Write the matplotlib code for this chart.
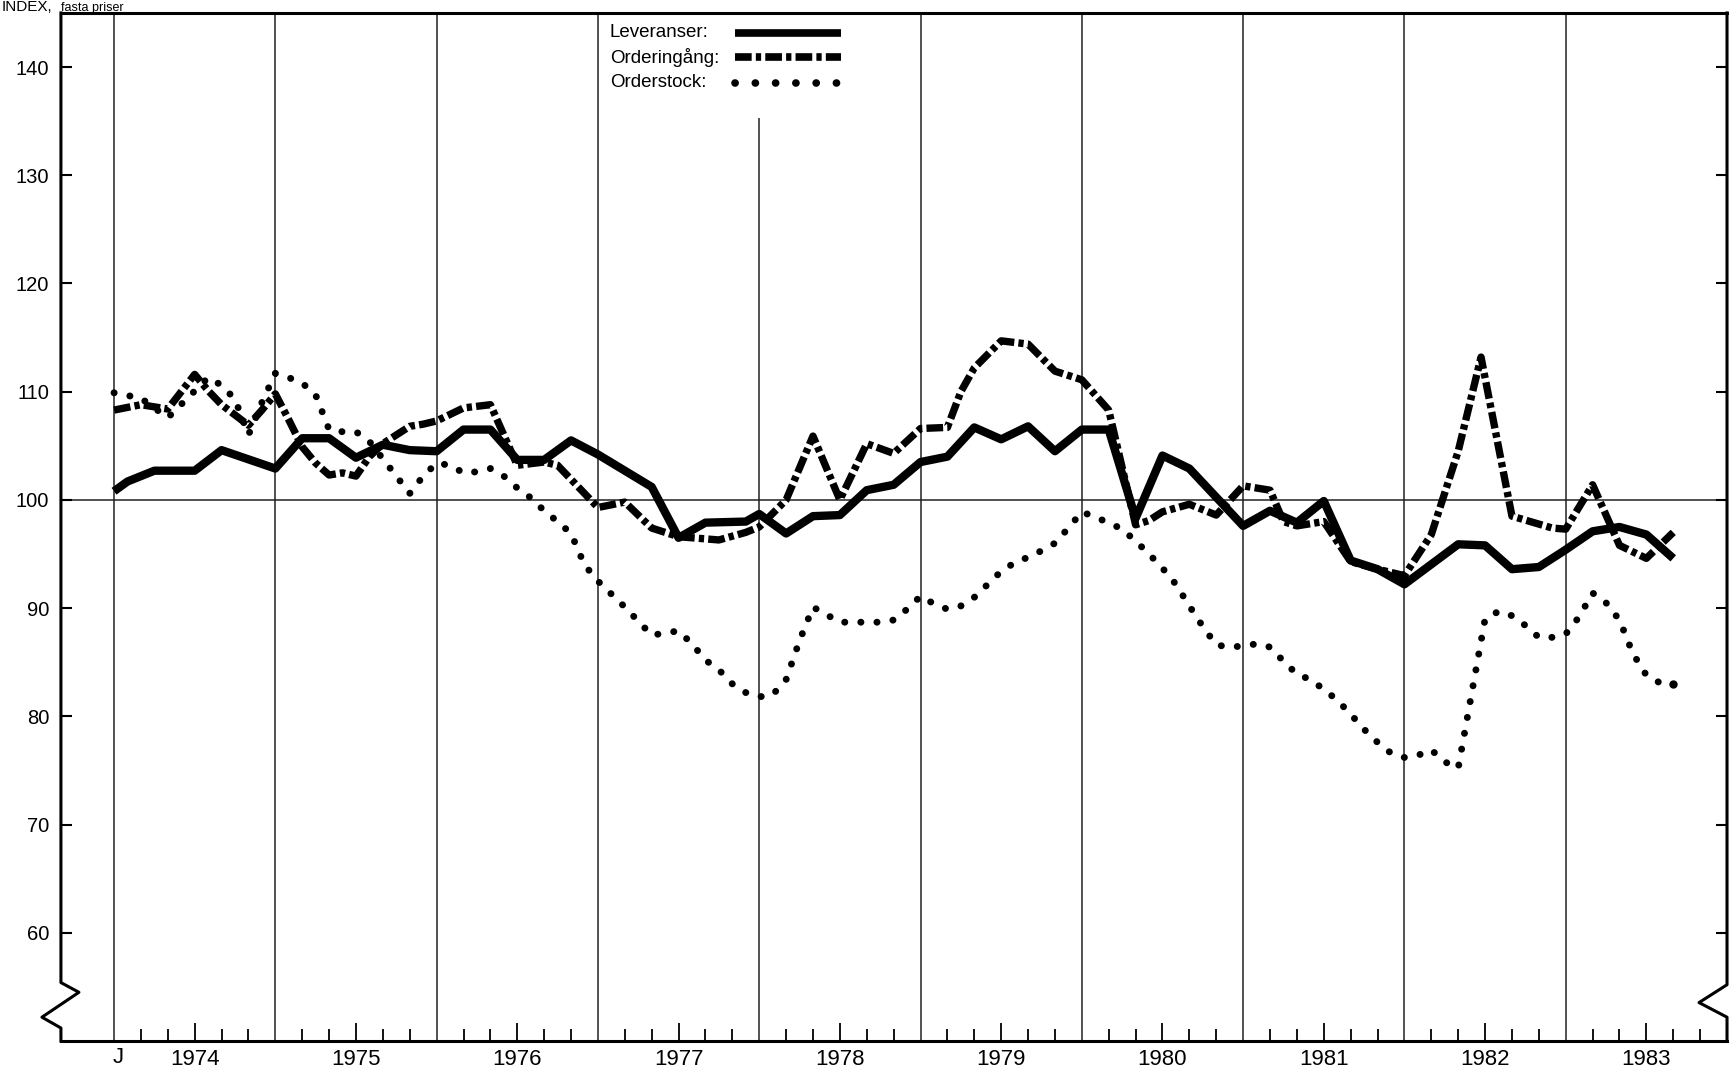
import matplotlib.pyplot as plt
from matplotlib.patches import Rectangle

# months counted from January 1974
years = ["1974", "1975", "1976", "1977", "1978", "1979", "1980", "1981", "1982", "1983"]

lev_months = [0, 1, 3, 6, 8, 12, 14, 16, 18, 20, 22, 24, 26, 28, 30, 32, 34, 36, 40, 42,
              44, 47, 48, 50, 52, 54, 56, 58, 60, 62, 64, 66, 68, 70, 72, 74, 76, 78, 80, 84,
              86, 88, 90, 92, 94, 96, 100, 102, 104, 106, 108, 110, 112, 114, 116]
lev_values = [100.8, 101.7, 102.7, 102.7, 104.6, 102.9, 105.7, 105.7, 103.9, 105.1, 104.6, 104.5,
              106.5, 106.5, 103.7, 103.7, 105.5, 104.2, 101.2, 96.5, 97.9, 98.0, 98.7, 96.9,
              98.5, 98.6, 100.9, 101.4, 103.5, 104.0, 106.7, 105.6, 106.8, 104.5, 106.5, 106.5,
              98.3, 104.1, 102.9, 97.6, 99.0, 97.9, 99.9, 94.4, 93.6, 92.2, 95.9, 95.8, 93.6,
              93.8, 95.4, 97.1, 97.5, 96.8, 94.6]

ord_months = [0, 2, 4, 6, 7, 8, 10, 11, 12, 13, 14, 15, 16, 17, 18, 19, 20, 22, 23, 24,
              26, 28, 30, 32, 33, 36, 38, 40, 42, 45, 47, 48, 50, 52, 54, 56, 58, 60, 62, 63,
              64, 66, 68, 70, 72, 74, 76, 77, 78, 80, 82, 84, 86, 87, 88, 90, 92, 94, 96, 98,
              100, 101.7, 104, 107, 108, 110, 112, 114, 116]
ord_values = [108.3, 108.8, 108.4, 111.6, 110.1, 108.8, 106.9, 108.3, 109.8, 107.4, 104.9, 103.4,
              102.3, 102.5, 102.2, 104.0, 105.2, 106.8, 107.0, 107.3, 108.5, 108.8, 103.2, 103.5,
              103.2, 99.3, 99.8, 97.4, 96.6, 96.3, 97.0, 97.5, 100.0, 105.9, 100.0, 105.2, 104.3,
              106.6, 106.7, 110.0, 112.2, 114.7, 114.4, 111.9, 111.1, 108.3, 97.7, 98.1, 98.9,
              99.6, 98.6, 101.3, 100.9, 98.0, 97.6, 98.0, 94.3, 93.6, 93.0, 96.8, 104.5, 113.2,
              98.5, 97.4, 97.3, 101.4, 95.8, 94.6, 97.0]

stock_months = [0, 2, 4, 7, 8, 9, 10, 11,
                12, 13, 14, 15, 16, 17, 18, 19, 20, 21, 22, 23,
                24, 25, 26, 27, 28, 29, 30, 31, 32, 33, 34, 35,
                36, 37, 38, 39, 40, 41, 42, 43, 44, 45, 46, 47,
                48, 49, 50, 51, 52, 53, 54, 55, 56, 57, 58, 59,
                60, 61, 62, 63, 64, 65, 66, 67, 68, 69, 70, 71,
                72, 73, 74, 75, 76, 77, 78, 79, 80, 81, 82, 83,
                84, 85, 86, 87, 88, 89, 90, 91, 92, 93, 94, 95,
                96, 97, 98, 99, 100, 102, 103, 104, 105, 106, 107,
                108, 109, 110, 111, 112, 113, 114, 115, 116]
stock_values = [109.9, 109.4, 107.6, 111.3, 110.6, 109.3, 106.0, 109.0,
                111.7, 111.3, 110.8, 109.7, 106.5, 106.3, 106.3, 105.4, 103.8, 102.2, 100.6, 102.2,
                103.4, 103.2, 102.5, 102.6, 102.9, 102.2, 101.1, 100.2, 99.0, 98.0, 96.9, 94.0,
                92.5, 91.3, 90.1, 88.8, 87.5, 87.7, 87.9, 86.7, 85.2, 84.3, 83.0, 82.2,
                81.8, 82.0, 83.4, 87.0, 90.1, 89.4, 88.7, 88.7, 88.7, 88.7, 88.9, 89.9,
                91.1, 90.4, 89.9, 90.2, 91.0, 92.2, 93.4, 94.2, 94.7, 95.3, 96.0, 97.4,
                98.9, 98.4, 97.9, 97.3, 96.2, 95.0, 93.7, 92.2, 90.2, 88.3, 86.6, 86.4,
                86.5, 86.7, 86.4, 85.1, 83.9, 83.4, 82.5, 81.5, 80.2, 78.8, 77.6, 76.6,
                76.2, 76.4, 76.9, 75.8, 75.2, 89.0, 89.7, 89.3, 88.4, 87.3, 87.3,
                87.6, 89.2, 91.4, 90.5, 88.9, 85.8, 83.8, 83.1, 83.0]

plt.rcParams["font.family"] = ["Liberation Sans", "DejaVu Sans"]
plt.rcParams["lines.scale_dashes"] = False

dashdot = (0, (12, 3, 3.8, 3))

fig = plt.figure(figsize=(17.31, 10.70), dpi=100)
ax = fig.add_axes([0.0352, 0.0271, 0.9625, 0.9608])
ax.set_xlim(-3.95, 120)
ax.set_ylim(50, 145)

# year lines and the 100 line
for k in range(len(years)):
    ax.axvline(12 * k, color="#222222", lw=1.1, zorder=1)
ax.axhline(100, color="#222222", lw=1.1, zorder=1)

ax.plot(lev_months, lev_values, color="black", lw=6, solid_capstyle="butt", zorder=4)
ax.plot(ord_months, ord_values, color="black", lw=5.3, linestyle=dashdot,
        dash_capstyle="butt", zorder=3)
ax.plot(stock_months, stock_values, color="black", lw=5, linestyle=(0, (0.1, 11.5)),
        dash_capstyle="round", zorder=3.5)
ax.plot(stock_months[-1:], stock_values[-1:], "o", color="black", ms=5, zorder=3.5)

# frame: top/bottom normal, left/right with break marks
for side in ["left", "right"]:
    ax.spines[side].set_visible(False)
for side in ["top", "bottom"]:
    ax.spines[side].set_linewidth(2.2)
tr = ax.get_yaxis_transform()
ax.plot([0, 0, 0.0108, -0.0114, 0, 0], [145, 55.4, 54.5, 52.2, 51.2, 50], color="black",
        lw=2.2, transform=tr, clip_on=False, zorder=5)
ax.plot([1, 1, 1 - 0.0168, 1, 1], [145, 55.2, 53.55, 52.2, 50], color="black",
        lw=2.2, transform=tr, clip_on=False, zorder=5)

ax.set_yticks(range(60, 141, 10))
ax.tick_params(axis="y", direction="in", length=8, width=1.5, left=True, right=True,
               labelsize=14.5, pad=8.5)
major = [6 + 12 * k for k in range(len(years))]
minor = [12 * k + d for k in range(len(years)) for d in (2, 4, 8, 10)]
ax.set_xticks(major)
ax.set_xticks(minor, minor=True)
ax.set_xticklabels(years, family=["Liberation Sans Narrow", "Liberation Sans"], fontsize=16)
ax.tick_params(axis="x", which="major", direction="in", length=13, width=1.3, pad=6)
ax.tick_params(axis="x", which="minor", direction="in", length=8.4, width=1.3)
ax.text(0.3, -0.0165, "J", transform=ax.get_xaxis_transform(), ha="center", va="center",
        fontsize=16, family=["Liberation Sans Narrow", "Liberation Sans"])

# legend block
ax.add_patch(Rectangle((0.3253, 0.8979), 0.1603, 0.1021, transform=ax.transAxes,
                       facecolor="white", edgecolor="none", zorder=1.5))
legend_rows = [("Leveranser:", "-", 0.9805), ("Orderingång:", dashdot, 0.9567),
               ("Orderstock:", (0, (0.1, 14.5)), 0.9319)]
for label, style, y in legend_rows:
    ax.text(0.3295, y, label, transform=ax.transAxes, fontsize=13.5, va="center", zorder=6)
    ax.plot([0.4046, 0.4682], [y, y], transform=ax.transAxes, color="black", lw=5.5,
            linestyle=style, dash_capstyle="round" if label == "Orderstock:" else "butt",
            solid_capstyle="butt", zorder=6)

fig.text(0.001, 0.9897, "INDEX,", fontsize=11, va="baseline")
fig.text(0.035, 0.9897, "fasta priser", fontsize=9, va="baseline")

fig.savefig("out.png", dpi=100)
